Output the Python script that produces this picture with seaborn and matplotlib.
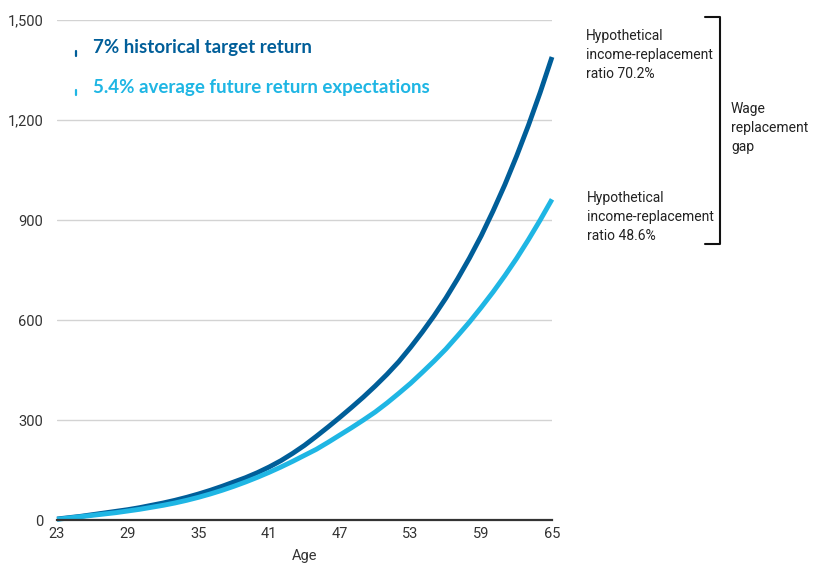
import matplotlib
matplotlib.use("Agg")
import matplotlib.pyplot as plt
import seaborn as sns
import pandas as pd
from matplotlib.lines import Line2D

# ---- data ----
ages = list(range(23, 66))
historical_7pct = [3, 7, 11, 16, 21, 26, 31, 37, 44, 51, 59, 68, 78, 89, 101, 114, 127, 142,
                   159, 178, 200, 224, 251, 279, 308, 338, 369, 402, 437, 475, 518, 564,
                   613, 666, 724, 786, 853, 927, 1006, 1092, 1184, 1283, 1389]
future_5_4pct = [2, 6, 10, 14, 18, 22, 27, 32, 38, 44, 51, 59, 68, 78, 89, 101, 114, 128,
                 143, 159, 176, 194, 212, 233, 255, 277, 300, 324, 351, 380, 410, 443,
                 477, 513, 553, 594, 638, 684, 733, 785, 841, 900, 962]
series_names = ["7% historical target return", "5.4% average future return expectations"]
series_colors = ["#005e99", "#1fb6e4"]
x_ticks = [23, 29, 35, 41, 47, 53, 59, 65]
y_ticks = [0, 300, 600, 900, 1200, 1500]
y_tick_labels = ["0", "300", "600", "900", "1,200", "1,500"]
note_top = "Hypothetical\nincome-replacement\nratio 70.2%"
note_bottom = "Hypothetical\nincome-replacement\nratio 48.6%"
note_gap = "Wage\nreplacement\ngap"

df = pd.DataFrame({
    "Age": ages * 2,
    "Value": historical_7pct + future_5_4pct,
    "Series": [series_names[0]] * len(ages) + [series_names[1]] * len(ages),
})

sns.set_theme(style="white")
plt.rcParams["font.family"] = ["Roboto", "DejaVu Sans"]

fig = plt.figure(figsize=(8.18, 5.67), dpi=100)
ax = fig.add_axes([57 / 818, 1 - 520 / 567, 495 / 818, 500 / 567])

sns.lineplot(data=df, x="Age", y="Value", hue="Series", palette=series_colors,
             linewidth=3.5, legend=False, ax=ax)
for ln in ax.get_lines():
    ln.set_solid_capstyle("butt")
    ln.set_clip_on(False)

ax.set_xlim(23, 65)
ax.set_ylim(0, 1500)
ax.set_xticks(x_ticks)
ax.set_yticks(y_ticks)
ax.set_yticklabels(y_tick_labels)
ax.tick_params(axis="both", length=0, labelsize=10.5, colors="#333333")
ax.tick_params(axis="y", pad=10)
ax.tick_params(axis="x", pad=5)
ax.set_xlabel("Age", fontsize=10.5, color="#333333", labelpad=6)
ax.set_ylabel("")
ax.yaxis.grid(True, color="#d3d3d3", linewidth=1.0)
ax.set_axisbelow(True)
for s in ["left", "right", "top"]:
    ax.spines[s].set_visible(False)
ax.spines["bottom"].set_color("#333333")
ax.spines["bottom"].set_linewidth(1.6)

# legend (text with small tick markers)
legend_font = ["Lato", "DejaVu Sans"]
leg_y = [0.944, 0.866]
for name, col, yy in zip(series_names, series_colors, leg_y):
    ax.text(0.0727, yy, name, transform=ax.transAxes, color=col, fontsize=13.5,
            fontweight="bold", family=legend_font, va="center", ha="left")
    ax.add_line(Line2D([0.038, 0.038], [yy - 0.016, yy - 0.005], transform=ax.transAxes,
                       color=col, linewidth=1.6, clip_on=False))

# right-hand annotations
note_kw = dict(fontsize=10, color="#222222", va="center", ha="left", linespacing=1.42)
fig.text(586 / 818, 1 - 55 / 567, note_top, **note_kw)
fig.text(587 / 818, 1 - 217 / 567, note_bottom, **note_kw)
fig.text(731 / 818, 1 - 128 / 567, note_gap, **note_kw)
bx = 720 / 818
fig.add_artist(Line2D([705 / 818, bx, bx, 705 / 818],
                      [1 - 17 / 567, 1 - 17 / 567, 1 - 244 / 567, 1 - 244 / 567],
                      color="#111111", linewidth=1.5))

fig.savefig("out.png", dpi=100)
